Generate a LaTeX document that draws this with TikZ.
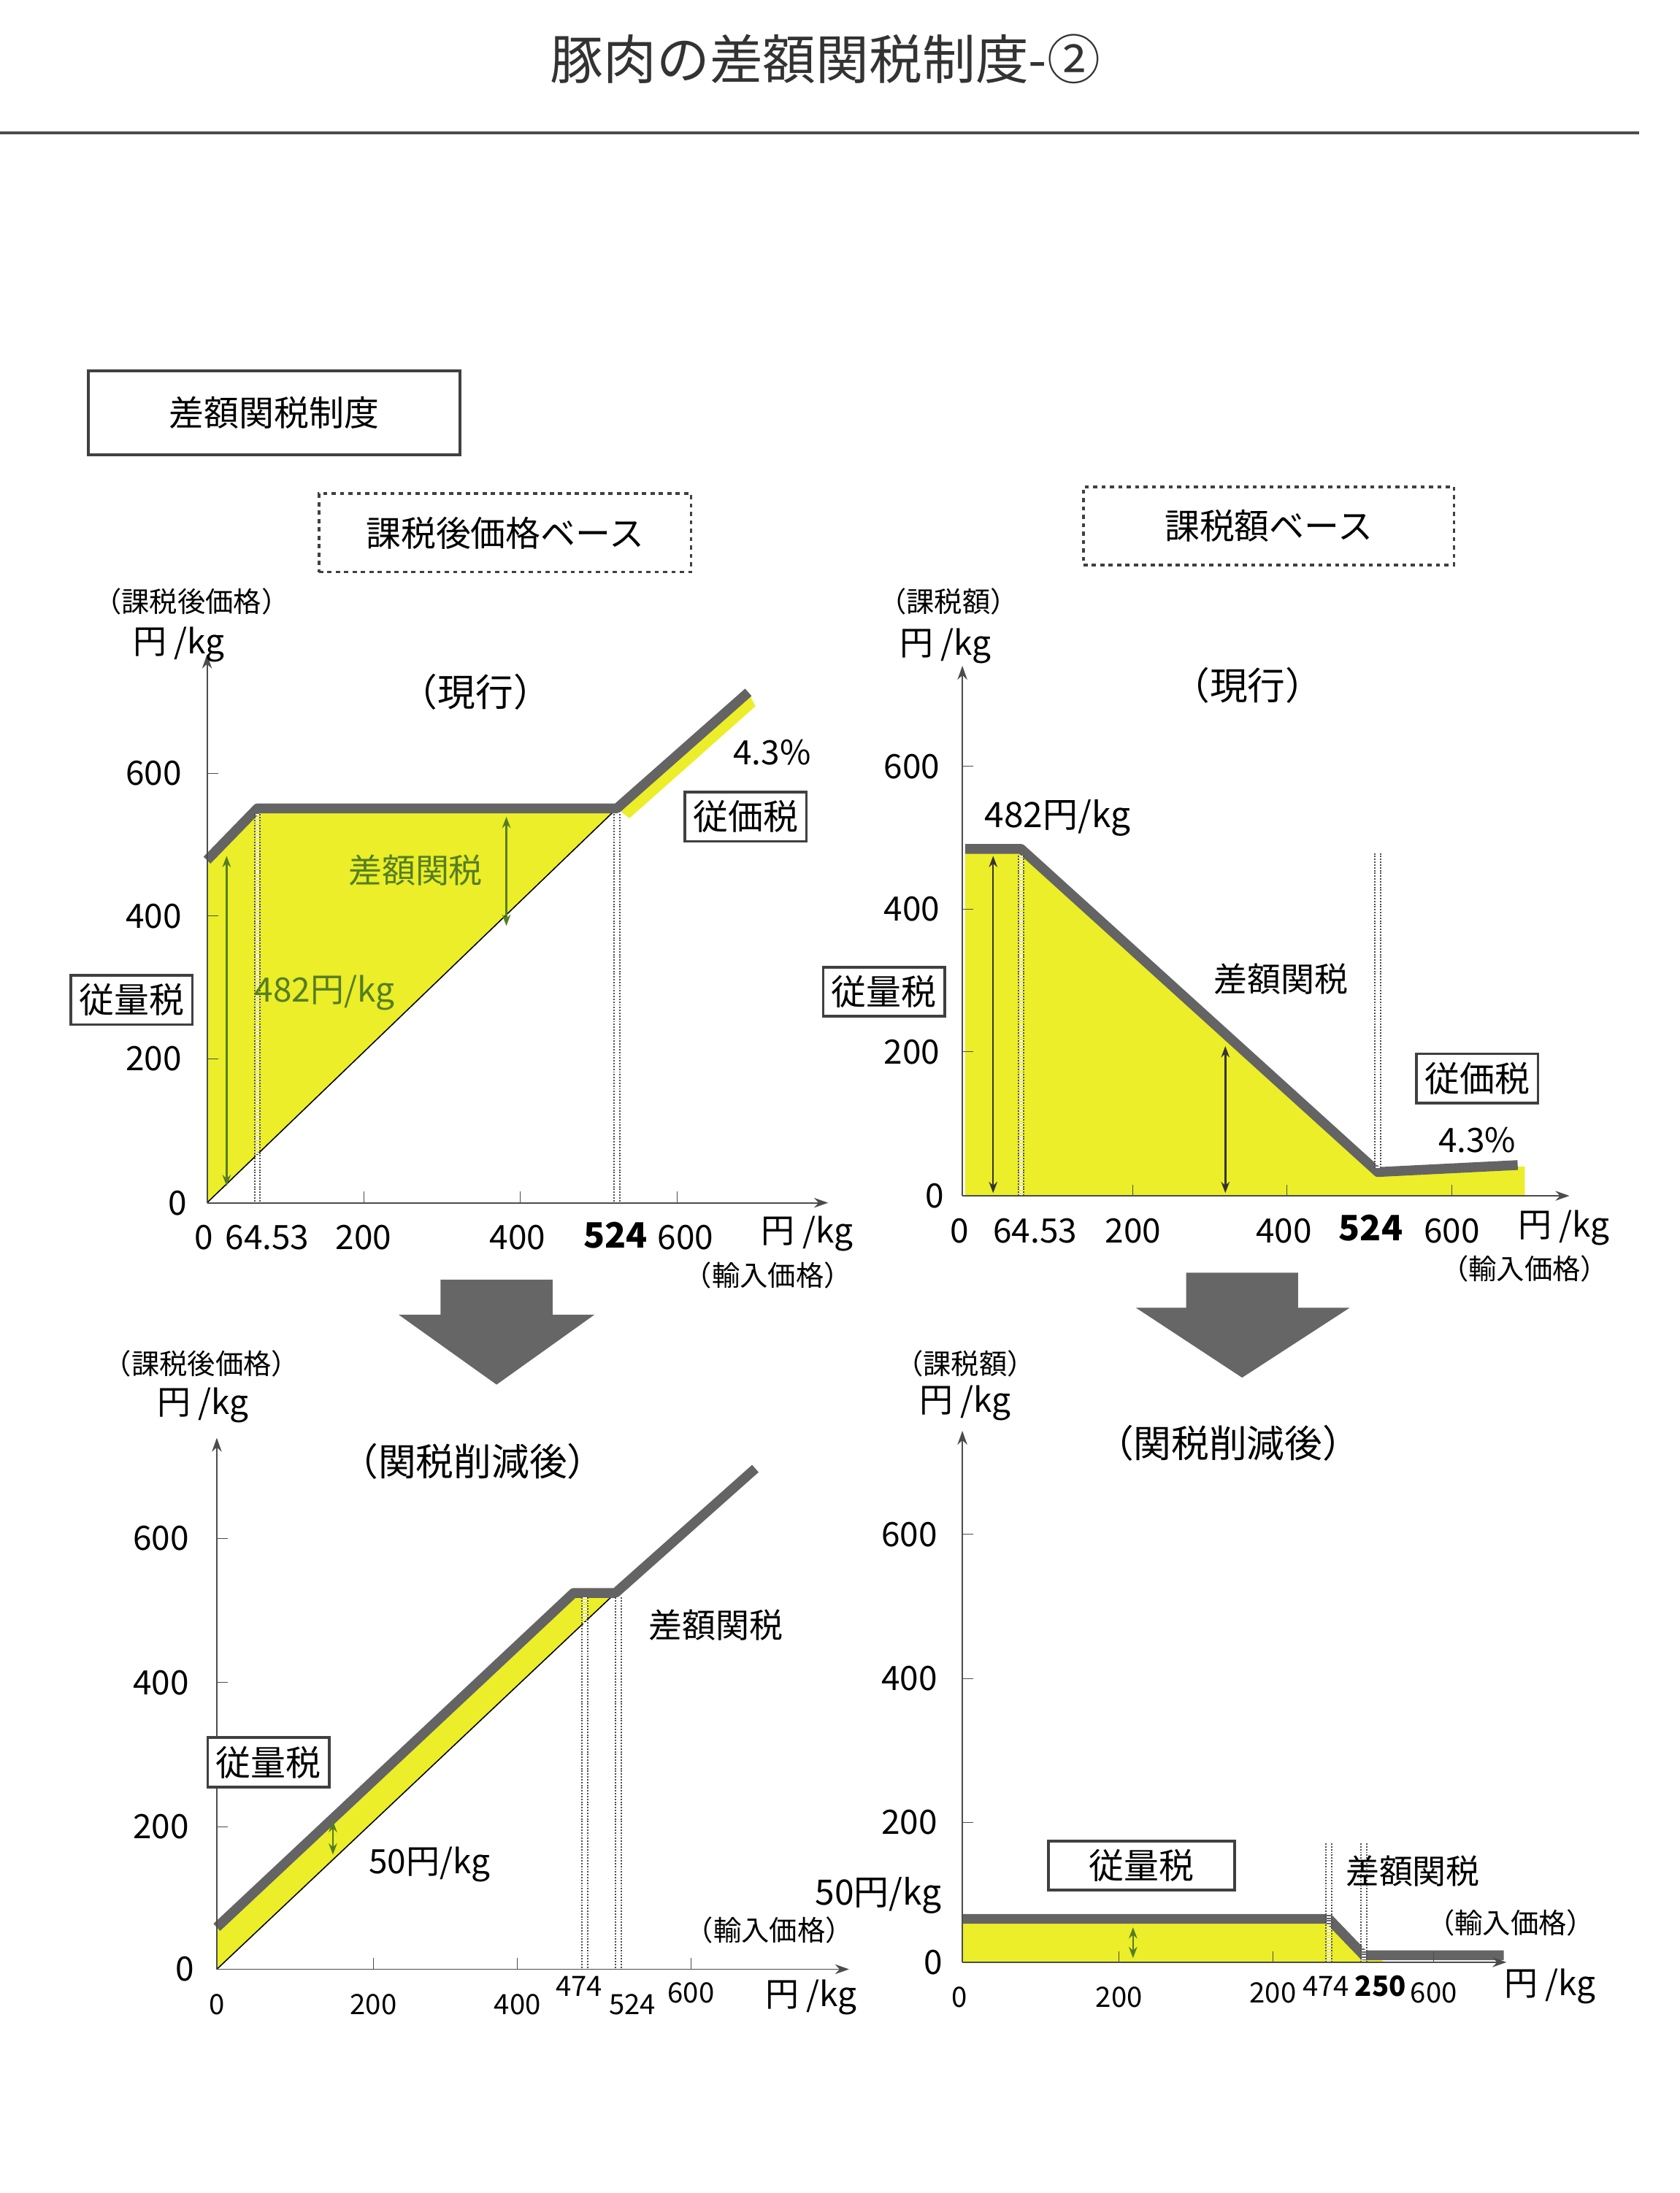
\documentclass[tikz,border=0pt]{standalone}
\usepackage{fontspec}
\setmainfont{Noto Sans CJK JP}
\usetikzlibrary{arrows.meta}
\definecolor{yel}{RGB}{235,238,40}
\definecolor{grn}{RGB}{85,125,35}
\definecolor{crv}{RGB}{100,100,100}
\tikzset{
 lbl/.style={font=\fontsize{24}{24}\selectfont},
 sml/.style={font=\fontsize{20}{20}\selectfont},
 tbox/.style={draw=black!75,line width=2pt,fill=white,inner sep=6pt,font=\fontsize{25}{25}\selectfont},
 dbox/.style={draw=black!75,line width=2pt,dash pattern=on 3pt off 3pt,inner sep=8pt,font=\fontsize{25}{25}\selectfont},
 ax/.style={line width=1pt,-{Stealth[length=10pt,width=7pt]},black!70},
 curve/.style={line width=7pt,crv,line join=round},
 dotv/.style={densely dotted,line width=1pt,black!70,double,double distance=3pt},
 garr/.style={line width=1.3pt,grn,{Stealth[length=8pt]}-{Stealth[length=8pt]}},
 bigarr/.style={fill=black!60,draw=none}
}
\begin{document}
\begin{tikzpicture}[x=1pt,y=-1pt]
\useasboundingbox[fill=white] (0,0) rectangle (1201,1568);
\node[font=\fontsize{38}{38}\selectfont,text=black!80] (title) at (590,42) {豚肉の差額関税制度-②};
\draw[line width=2pt,black!70] (0,95) -- (1172,95);
\node[tbox,minimum width=266pt,minimum height=60pt] (sys) at (196,295) {差額関税制度};
\node[dbox,minimum width=266pt,minimum height=56pt] (b1) at (361,381) {課税後価格ベース};
\node[dbox,minimum width=265pt,minimum height=56pt] (b2) at (907,376) {課税額ベース};

% ===== top left =====
\fill[yel] (148,860) -- (148,615) -- (184,578) -- (441,578) -- cycle;
\fill[yel] (441,578) -- (535,495) -- (540,505) -- (450,585) -- cycle;
\draw[black,line width=0.8pt] (148,860) -- (441,578);
\draw[curve] (148,615) -- (184,578) -- (441,578) -- (535,495);
\draw[dotv] (184,582) -- (184,860);
\draw[dotv] (441,582) -- (441,860);
\draw[ax] (148,860) -- (592,860);
\draw[ax] (148,860) -- (148,468);
\foreach \x in {260,372,484} \draw[black!70] (\x,860) -- (\x,852);
\foreach \y in {553,655,757} \draw[black!70] (148,\y) -- (156,\y);
\draw[garr] (162,612) -- (162,848);
\draw[garr] (362,584) -- (362,662);
\node[lbl] (a1) at (110,553) {600}; \node[lbl] (a2) at (110,655) {400};
\node[lbl] (a3) at (110,757) {200}; \node[lbl] (a4) at (127,860) {0};
\node[lbl] (a5) at (146,885) {0}; \node[lbl] (a6) at (191,885) {64.53};
\node[lbl] (a7) at (260,885) {200}; \node[lbl] (a8) at (370,885) {400};
\node[lbl,font=\fontsize{25}{25}\selectfont\bfseries] (a9) at (440,883) {524};
\node[lbl] (a10) at (490,885) {600}; \node[lbl] (a11) at (577,882) {円 /kg};
\node[sml] (a12) at (549,912) {（輸入価格）};
\node[sml] (a13) at (137,430) {（課税後価格）}; \node[lbl] (a14) at (128,461) {円 /kg};
\node[lbl,font=\fontsize{27}{27}\selectfont] (a15) at (340,495) {（現行）};
\node[lbl,text=grn] (a16) at (297,622) {差額関税};
\node[lbl,text=grn] (a17) at (232,710) {482円/kg};
\node[tbox] (a18) at (94,715) {従量税};
\node[tbox] (a19) at (533,584) {従価税};
\node[lbl] (a20) at (552,538) {4.3\%};

% ===== top right =====
\fill[yel] (690,607) -- (730,607) -- (985,838) -- (1090,834) -- (1090,855) -- (690,855) -- cycle;
\draw[curve] (690,607) -- (730,607) -- (985,838) -- (1085,833);
\draw[dotv] (730,612) -- (730,855);
\draw[dotv] (985,610) -- (985,836);
\draw[ax] (688,855) -- (1122,855);
\draw[ax] (688,855) -- (688,476);
\foreach \x in {810,920,1038} \draw[black!70] (\x,855) -- (\x,847);
\foreach \y in {548,650,752} \draw[black!70] (688,\y) -- (696,\y);
\draw[garr,black!80] (710,612) -- (710,853);
\draw[garr,black!80] (876,748) -- (876,853);
\node[lbl] (c1) at (652,548) {600}; \node[lbl] (c2) at (652,650) {400};
\node[lbl] (c3) at (652,752) {200}; \node[lbl] (c4) at (668,855) {0};
\node[lbl] (c5) at (686,880) {0}; \node[lbl] (c6) at (740,880) {64.53};
\node[lbl] (c7) at (810,880) {200}; \node[lbl] (c8) at (918,880) {400};
\node[lbl,font=\fontsize{25}{25}\selectfont\bfseries] (c9) at (980,878) {524};
\node[lbl] (c10) at (1038,880) {600}; \node[lbl] (c11) at (1118,878) {円 /kg};
\node[sml] (c12) at (1090,907) {（輸入価格）};
\node[sml] (c13) at (678,430) {（課税額）}; \node[lbl] (c14) at (676,462) {円 /kg};
\node[lbl,font=\fontsize{27}{27}\selectfont] (c15) at (892,490) {（現行）};
\node[lbl,font=\fontsize{25}{25}\selectfont] (c16) at (756,585) {482円/kg};
\node[lbl] (c17) at (916,700) {差額関税};
\node[tbox] (c18) at (632,709) {従量税};
\node[tbox] (c19) at (1056,771) {従価税};
\node[lbl] (c20) at (1056,815) {4.3\%};

% ===== arrows =====
\fill[bigarr] (315,915) -- (395,915) -- (395,940) -- (425,940) -- (355,990) -- (285,940) -- (315,940) -- cycle;
\fill[bigarr] (848,910) -- (928,910) -- (928,935) -- (965,935) -- (888,985) -- (812,935) -- (848,935) -- cycle;

% ===== bottom left =====
\fill[yel] (155,1408) -- (155,1378) -- (410,1139) -- (440,1139) -- cycle;
\draw[black,line width=0.8pt] (155,1408) -- (440,1139);
\draw[curve] (155,1378) -- (410,1139) -- (440,1139) -- (540,1050);
\draw[dotv] (418,1142) -- (418,1408);
\draw[dotv] (442,1142) -- (442,1408);
\draw[ax] (155,1408) -- (607,1408);
\draw[ax] (155,1408) -- (155,1028);
\foreach \x in {267,370,494} \draw[black!70] (\x,1408) -- (\x,1400);
\foreach \y in {1100,1203,1306} \draw[black!70] (155,\y) -- (163,\y);
\draw[garr] (238,1302) -- (238,1326);
\node[lbl] (d1) at (115,1100) {600}; \node[lbl] (d2) at (115,1203) {400};
\node[lbl] (d3) at (115,1306) {200}; \node[lbl] (d4) at (132,1408) {0};
\node[sml] (d5) at (155,1433) {0}; \node[sml] (d6) at (267,1433) {200};
\node[sml] (d7) at (370,1433) {400}; \node[sml] (d8) at (414,1420) {474};
\node[sml] (d9) at (452,1433) {524}; \node[sml] (d10) at (494,1425) {600};
\node[lbl] (d11) at (580,1428) {円 /kg};
\node[sml] (d12) at (550,1380) {（輸入価格）};
\node[sml] (d13) at (144,975) {（課税後価格）}; \node[lbl] (d14) at (145,1005) {円 /kg};
\node[lbl,font=\fontsize{27}{27}\selectfont] (d15) at (338,1045) {（関税削減後）};
\node[lbl] (d16) at (512,1162) {差額関税};
\node[tbox] (d17) at (192,1260) {従量税};
\node[lbl] (d18) at (307,1333) {50円/kg};

% ===== bottom right =====
\fill[yel] (688,1372) -- (950,1372) -- (978,1396) -- (990,1403) -- (688,1403) -- cycle;
\draw[curve] (688,1372) -- (950,1372) -- (975,1398) -- (1075,1398);
\draw[dotv] (950,1318) -- (950,1403);
\draw[dotv] (975,1318) -- (975,1403);
\draw[ax] (688,1403) -- (1077,1403);
\draw[ax] (688,1403) -- (688,1023);
\foreach \x in {800,910,1025} \draw[black!70] (\x,1403) -- (\x,1395);
\foreach \y in {1097,1200,1303} \draw[black!70] (688,\y) -- (696,\y);
\draw[garr] (810,1378) -- (810,1400);
\node[lbl] (e1) at (650,1097) {600}; \node[lbl] (e2) at (650,1200) {400};
\node[lbl] (e3) at (650,1303) {200}; \node[lbl] (e4) at (667,1403) {0};
\node[sml] (e5) at (686,1428) {0}; \node[sml] (e6) at (800,1428) {200};
\node[sml] (e7) at (910,1425) {200}; \node[sml] (e8) at (948,1420) {474};
\node[sml,font=\fontsize{20}{20}\selectfont\bfseries] (e9) at (987,1420) {250};
\node[sml] (e10) at (1025,1425) {600};
\node[lbl] (e11) at (1108,1420) {円 /kg};
\node[sml] (e12) at (1080,1375) {（輸入価格）};
\node[sml] (e13) at (690,975) {（課税額）}; \node[lbl] (e14) at (690,1003) {円 /kg};
\node[lbl,font=\fontsize{27}{27}\selectfont] (e15) at (878,1032) {（関税削減後）};
\node[tbox,minimum width=133pt] (e16) at (816,1334) {従量税};
\node[lbl] (e17) at (1010,1338) {差額関税};
\node[lbl,font=\fontsize{25}{25}\selectfont] (e18) at (628,1355) {50円/kg};
\end{tikzpicture}
\end{document}
